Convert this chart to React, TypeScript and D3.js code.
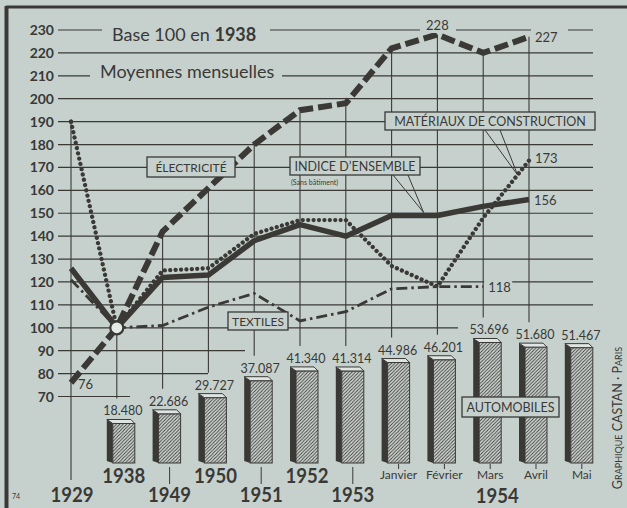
import React from "react";
import * as d3 from "d3";

const categories = ["1929", "1938", "1949", "1950", "1951", "1952", "1953", "Janvier", "Février", "Mars", "Avril", "Mai"];
const electricite: (number | null)[] = [76, 100, 142, 161, 180, 195, 198, 222, 228, 220, 227, null];
const indice: (number | null)[] = [126, 100, 122, 123, 138, 145, 140, 149, 149, 153, 156, null];
const materiaux: (number | null)[] = [190, 100, 125, 126, 141, 147, 147, 127, 118, 148, 173, null];
const textiles: (number | null)[] = [121, 100, 101, 109, 115, 103, 107, 117, 118, 118, null, null];
const automobiles: (number | null)[] = [null, 18480, 22686, 29727, 37087, 41340, 41314, 44986, 46201, 53696, 51680, 51467];
const yTicks = [70, 80, 90, 100, 110, 120, 130, 140, 150, 160, 170, 180, 190, 200, 210, 220, 230];
const yearLabels = [
  { cat: "1929", text: "1929", row: "low" },
  { cat: "1938", text: "1938", row: "high" },
  { cat: "1949", text: "1949", row: "low" },
  { cat: "1950", text: "1950", row: "high" },
  { cat: "1951", text: "1951", row: "low" },
  { cat: "1952", text: "1952", row: "high" },
  { cat: "1953", text: "1953", row: "low" },
];
const monthCats = ["Janvier", "Février", "Mars", "Avril", "Mai"];

const W = 627, H = 508;
const BG = "#c6d1ce";
const INK = "#3a3936";
const FONT = "Lato, 'DejaVu Sans', sans-serif";

export default function App() {
  const x = d3.scalePoint<string>().domain(categories).range([71, 71 + 45.8 * 11]);
  const y = d3.scaleLinear().domain([70, 230]).range([396.5, 30]);
  const yBar = d3.scaleLinear().domain([0, 50000]).range([466, 466 - 115]);
  const barBottom = 463;
  const fmt = (v: number) => d3.format(",")(v).replace(/,/g, ".");

  const xi = (i: number) => x(categories[i]) as number;
  const mkLine = d3
    .line<number | null>()
    .defined((d) => d != null)
    .x((_, i) => xi(i))
    .y((d) => y(d as number));

  const gridEnd: Record<number, number> = { 70: 130, 80: 208, 90: 245, 100: 458 };

  const interp = (arr: (number | null)[], i: number, t: number) => {
    const a = arr[i] as number, b = arr[i + 1] as number;
    return { px: xi(i) + t * (xi(i + 1) - xi(i)), py: y(a + t * (b - a)) };
  };
  const pInd = interp(indice, 7, 0.7);
  const pMat = interp(materiaux, 9, 0.75);

  return (
    <svg width={W} height={H} style={{ position: "fixed", left: 0, top: 0, background: BG }} fontFamily={FONT}>
      <defs>
        <pattern id="hatch" patternUnits="userSpaceOnUse" width="3.4" height="3.4">
          <rect width="3.4" height="3.4" fill="#d3dbd7" />
          <path d="M-1,1 l2,-2 M0,3.4 l3.4,-3.4 M2.4,4.4 l2,-2" stroke={INK} strokeWidth="0.9" />
        </pattern>
      </defs>
      <rect x={0} y={0} width={W} height={H} fill={BG} />
      {/* frame */}
      <line x1={6} y1={7} x2={W} y2={7} stroke={INK} strokeWidth={3} />
      <line x1={6.5} y1={6} x2={6.5} y2={H} stroke={INK} strokeWidth={4} />
      <text x={12} y={499} fontSize={7} fill={INK}>74</text>

      {/* horizontal grid */}
      {yTicks.map((t) => (
        <g key={t}>
          <line x1={58} x2={gridEnd[t] ?? 593} y1={y(t)} y2={y(t)} stroke={INK} strokeWidth={1.2} />
          <text x={54} y={y(t)} dy="0.36em" textAnchor="end" fontSize={14} fontWeight={700} fill={INK}>
            {t}
          </text>
        </g>
      ))}

      {/* vertical grid */}
      {categories.map((c, i) => {
        const vals = [electricite[i], indice[i], materiaux[i], textiles[i]].filter((v) => v != null) as number[];
        if (!vals.length) return null;
        const top = y(Math.max(...vals));
        const a = automobiles[i];
        const bottom = a == null ? 480 : yBar(a) - 8 - 17;
        return <line key={c} x1={xi(i)} x2={xi(i)} y1={top} y2={bottom} stroke={INK} strokeWidth={1.1} />;
      })}

      {/* bars */}
      {categories.map((c, i) => {
        const a = automobiles[i];
        if (a == null) return null;
        const cx = xi(i);
        const top = yBar(a);
        const l = cx - 10, f = cx - 4, r = cx + 18;
        return (
          <g key={"b" + c}>
            <polygon points={`${l},${top - 4} ${f},${top} ${f},${barBottom} ${l},${barBottom - 2}`} fill={INK} />
            <rect x={f} y={top} width={r - f} height={barBottom - top} fill="url(#hatch)" stroke={INK} strokeWidth={1} />
            <polygon points={`${l},${top - 4} ${r - 4},${top - 4} ${r},${top} ${f},${top}`} fill="#dfe5e2" stroke={INK} strokeWidth={1} />
            <text x={cx + 6} y={top - 8} textAnchor="middle" fontSize={12.5} fill={INK}>
              {fmt(a)}
            </text>
          </g>
        );
      })}

      {/* series lines */}
      <path d={mkLine(textiles) || ""} fill="none" stroke={INK} strokeWidth={2.8} strokeDasharray="11 4 2.5 4" />
      <path d={mkLine(materiaux) || ""} fill="none" stroke={INK} strokeWidth={4.3} strokeDasharray="0.01 5.4" strokeLinecap="round" />
      <path d={mkLine(indice) || ""} fill="none" stroke={INK} strokeWidth={5.5} strokeLinejoin="round" />
      <path d={mkLine(electricite) || ""} fill="none" stroke={INK} strokeWidth={6} strokeDasharray="14 5" />
      <circle cx={xi(0)} cy={y(materiaux[0] as number)} r={2.2} fill={INK} />
      <circle cx={xi(1)} cy={y(100)} r={6.5} fill="#e6ebe8" stroke={INK} strokeWidth={2.2} />

      {/* titles */}
      <rect x={102} y={20} width={168} height={24} fill={BG} />
      <text x={112} y={40.5} fontSize={18} fill={INK}>
        Base 100 en <tspan fontWeight={700}>1938</tspan>
      </text>
      <rect x={90} y={60} width={192} height={24} fill={BG} />
      <text x={100} y={78} fontSize={18} fill={INK}>Moyennes mensuelles</text>

      {/* value labels */}
      <text x={xi(0) + 7} y={389} fontSize={13} fill={INK}>{electricite[0]}</text>
      <rect x={420} y={17} width={36} height={16} fill={BG} />
      <text x={xi(8)} y={30} textAnchor="middle" fontSize={13} fill={INK}>{electricite[8]}</text>
      <rect x={531} y={28} width={37} height={16} fill={BG} />
      <text x={xi(10) + 6} y={42} fontSize={13} fill={INK}>{electricite[10]}</text>
      <text x={xi(10) + 6} y={163} fontSize={13} fill={INK}>{materiaux[10]}</text>
      <text x={xi(10) + 5} y={205} fontSize={13} fill={INK}>{indice[10]}</text>
      <rect x={xi(9) + 1} y={279} width={28} height={16} fill={BG} />
      <text x={xi(9) + 5} y={292} fontSize={13} fill={INK}>{textiles[9]}</text>

      {/* callout boxes */}
      <rect x={147} y={157} width={88} height={20} fill={BG} stroke={INK} strokeWidth={1.3} />
      <text x={191} y={171.5} textAnchor="middle" fontSize={12} fill={INK}>ÉLECTRICITÉ</text>

      <line x1={393} y1={175} x2={pInd.px} y2={pInd.py - 3} stroke={INK} strokeWidth={1} />
      <line x1={408} y1={175} x2={pInd.px} y2={pInd.py - 3} stroke={INK} strokeWidth={1} />
      <rect x={290} y={157} width={130} height={18} fill={BG} stroke={INK} strokeWidth={1.3} />
      <text x={355} y={170.5} textAnchor="middle" fontSize={12.5} fill={INK}>INDICE D’ENSEMBLE</text>
      <text x={291} y={185} fontSize={7} fill={INK}>(Sans bâtiment)</text>

      <line x1={485} y1={130} x2={pMat.px} y2={pMat.py} stroke={INK} strokeWidth={1} />
      <line x1={500} y1={130} x2={pMat.px} y2={pMat.py} stroke={INK} strokeWidth={1} />
      <rect x={385} y={112} width={210} height={18} fill={BG} stroke={INK} strokeWidth={1.3} />
      <text x={490} y={125.5} textAnchor="middle" fontSize={12.5} fill={INK}>MATÉRIAUX DE CONSTRUCTION</text>

      <rect x={228} y={312} width={60} height={18} fill={BG} stroke={INK} strokeWidth={1.3} />
      <text x={258} y={325.5} textAnchor="middle" fontSize={12} fill={INK}>TEXTILES</text>

      <rect x={462} y={397} width={97} height={20} fill={BG} stroke={INK} strokeWidth={1.3} />
      <text x={510.5} y={411.5} textAnchor="middle" fontSize={12.5} fill={INK}>AUTOMOBILES</text>

      {/* x labels */}
      {yearLabels.map((d) => {
        const i = categories.indexOf(d.cat);
        const cx = i === 0 ? xi(i) + 1 : xi(i) + 7;
        const low = d.row === "low";
        return (
          <g key={d.text}>
            {low && i > 0 && <line x1={cx} x2={cx} y1={467} y2={484} stroke={INK} strokeWidth={1} />}
            <text x={cx} y={low ? 502 : 483} textAnchor="middle" fontSize={21} fontWeight={700} fill={INK}
              textLength={43} lengthAdjust="spacingAndGlyphs">
              {d.text}
            </text>
          </g>
        );
      })}
      {monthCats.map((m) => {
        const cx = (x(m) as number) + 7;
        return (
          <g key={m}>
            <line x1={cx} x2={cx} y1={464} y2={469} stroke={INK} strokeWidth={1} />
            <text x={cx} y={479} textAnchor="middle" fontSize={12} fill={INK}>{m}</text>
          </g>
        );
      })}
      <text x={(x("Mars") as number) + 14} y={503} textAnchor="middle" fontSize={20} fontWeight={700} fill={INK}
        textLength={43} lengthAdjust="spacingAndGlyphs">1954</text>

      {/* credit */}
      <text transform="translate(622,418) rotate(-90)" textAnchor="middle" fontSize={12.5} fill={INK} style={{ fontVariant: "small-caps" }}>
        Graphique CASTAN · Paris
      </text>
    </svg>
  );
}
